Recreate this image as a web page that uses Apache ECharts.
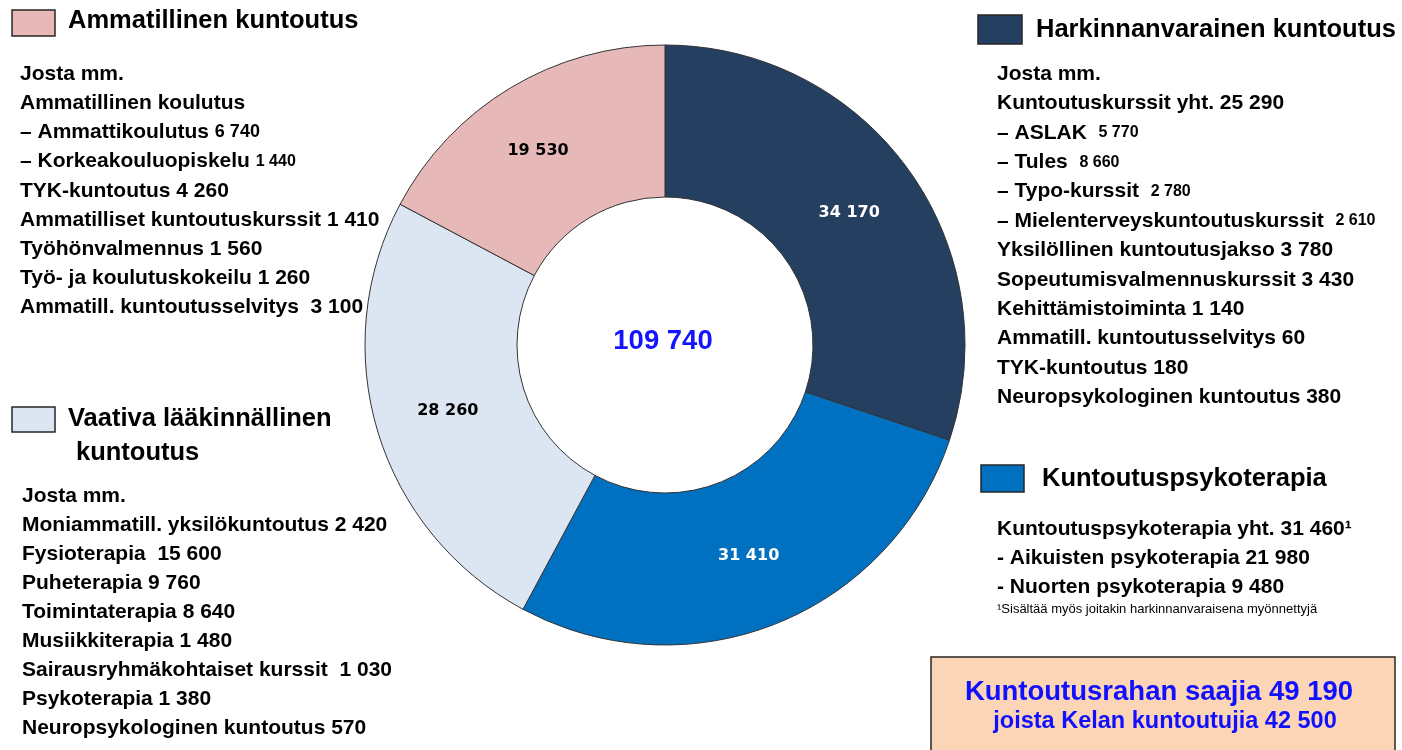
<!DOCTYPE html>
<html>
<head>
<meta charset="utf-8">
<script src="https://cdn.jsdelivr.net/npm/echarts@6/dist/echarts.min.js"></script>
<style>
  html, body { margin: 0; padding: 0; background: #fff; }
  #chart { width: 1402px; height: 750px; }
</style>
</head>
<body>
<div id="chart"></div>
<script>
// slices, clockwise from 12 o'clock
const categories = ['Harkinnanvarainen kuntoutus', 'Kuntoutuspsykoterapia', 'Vaativa lääkinnällinen kuntoutus', 'Ammatillinen kuntoutus'];
const values = [34170, 31410, 28260, 19530];
const sliceColors = ['#243F60', '#0070C0', '#DCE6F2', '#E6B9B8'];
const labelColors = ['#ffffff', '#ffffff', '#000000', '#000000'];
const totalText = '109 740';

// text blocks ({s|..} = smaller number)
const ammatillinenLines = [
  'Josta mm.',
  'Ammatillinen koulutus',
  '– Ammattikoulutus {m|6 740}',
  '– Korkeakouluopiskelu {s|1 440}',
  'TYK-kuntoutus 4 260',
  'Ammatilliset kuntoutuskurssit 1 410',
  'Työhönvalmennus 1 560',
  'Työ- ja koulutuskokeilu 1 260',
  'Ammatill. kuntoutusselvitys  3 100'
];
const vaativaLines = [
  'Josta mm.',
  'Moniammatill. yksilökuntoutus 2 420',
  'Fysioterapia  15 600',
  'Puheterapia 9 760',
  'Toimintaterapia 8 640',
  'Musiikkiterapia 1 480',
  'Sairausryhmäkohtaiset kurssit  1 030',
  'Psykoterapia 1 380',
  'Neuropsykologinen kuntoutus 570'
];
const harkinnanLines = [
  'Josta mm.',
  'Kuntoutuskurssit yht. 25 290',
  '– ASLAK  {s|5 770}',
  '– Tules  {s|8 660}',
  '– Typo-kurssit  {s|2 780}',
  '– Mielenterveyskuntoutuskurssit  {s|2 610}',
  'Yksilöllinen kuntoutusjakso 3 780',
  'Sopeutumisvalmennuskurssit 3 430',
  'Kehittämistoiminta 1 140',
  'Ammatill. kuntoutusselvitys 60',
  'TYK-kuntoutus 180',
  'Neuropsykologinen kuntoutus 380'
];
const psykoLines = [
  'Kuntoutuspsykoterapia yht. 31 460¹',
  '- Aikuisten psykoterapia 21 980',
  '- Nuorten psykoterapia 9 480'
];
const footnote = '¹Sisältää myös joitakin harkinnanvaraisena myönnettyjä';
const rahaLines = ['Kuntoutusrahan saajia 49 190', 'joista Kelan kuntoutujia 42 500'];

const FONT = '"Liberation Sans", Arial, sans-serif';

function fmt(v) {
  return String(v).replace(/\B(?=(\d{3})+(?!\d))/g, ' ');
}

const rich = {
  s: { fontSize: 16, fontWeight: 'bold', fontFamily: FONT, fill: '#000' },
  m: { fontSize: 18, fontWeight: 'bold', fontFamily: FONT, fill: '#000' }
};

function textBlock(lines, x, y0, step) {
  return lines.map((t, i) => ({
    type: 'text',
    x: x,
    y: y0 + i * step,
    style: {
      text: t,
      fontSize: 21,
      fontWeight: 'bold',
      fontFamily: FONT,
      fill: '#000',
      verticalAlign: 'middle',
      rich: rich
    }
  }));
}

function heading(text, x, y) {
  return {
    type: 'text', x: x, y: y,
    style: { text: text, fontSize: 25.5, fontWeight: 'bold', fontFamily: FONT, fill: '#000', verticalAlign: 'middle' }
  };
}

function box(x, y, w, h, color) {
  return {
    type: 'rect',
    shape: { x: x, y: y, width: w, height: h },
    style: { fill: color, stroke: '#262626', lineWidth: 1.5 }
  };
}

const chart = echarts.init(document.getElementById('chart'));

const graphics = [].concat(
  [box(12, 10, 43, 26, sliceColors[3]), heading('Ammatillinen kuntoutus', 68, 21)],
  textBlock(ammatillinenLines, 20, 74, 29.2),
  [box(12, 407, 43, 25, sliceColors[2]), heading('Vaativa lääkinnällinen', 68, 419), heading('kuntoutus', 76, 453)],
  textBlock(vaativaLines, 22, 496, 29),
  [box(978, 15, 44, 29, sliceColors[0]), heading('Harkinnanvarainen kuntoutus', 1036, 30)],
  textBlock(harkinnanLines, 997, 74, 29.4),
  [box(981, 465, 43, 27, sliceColors[1]), heading('Kuntoutuspsykoterapia', 1042, 479)],
  textBlock(psykoLines, 997, 529, 29),
  [{
    type: 'text', x: 997, y: 609,
    style: { text: footnote, fontSize: 13, fontFamily: FONT, fill: '#000', verticalAlign: 'middle' }
  }],
  [
    box(931, 657, 464, 100, '#FBD5B5'),
    {
      type: 'text', x: 1159, y: 692,
      style: { text: rahaLines[0], fontSize: 27.5, fontWeight: 'bold', fontFamily: FONT, fill: '#1010FF', align: 'center', verticalAlign: 'middle' }
    },
    {
      type: 'text', x: 1165, y: 722,
      style: { text: rahaLines[1], fontSize: 23.5, fontWeight: 'bold', fontFamily: FONT, fill: '#1010FF', align: 'center', verticalAlign: 'middle' }
    },
    {
      type: 'text', x: 663, y: 341,
      style: { text: totalText, fontSize: 27.5, fontWeight: 'bold', fontFamily: FONT, fill: '#1414FF', align: 'center', verticalAlign: 'middle' }
    }
  ]
);

const option = {
  animation: false,
  series: [
    {
      type: 'pie',
      center: [665, 345],
      radius: [148, 300],
      startAngle: 90,
      clockwise: true,
      avoidLabelOverlap: false,
      emphasis: { disabled: true },
      itemStyle: { borderColor: '#333', borderWidth: 1 },
      label: {
        show: true,
        position: 'inside',
        fontFamily: '"DejaVu Sans", sans-serif',
        fontWeight: 'bold',
        fontSize: 16,
        formatter: (p) => fmt(p.value)
      },
      labelLine: { show: false },
      data: categories.map((name, i) => ({
        name: name,
        value: values[i],
        itemStyle: { color: sliceColors[i] },
        label: i === 3 ? { color: labelColors[i], offset: [-10, 0] } : { color: labelColors[i] }
      }))
    }
  ],
  graphic: graphics
};

chart.setOption(option);
</script>
</body>
</html>
